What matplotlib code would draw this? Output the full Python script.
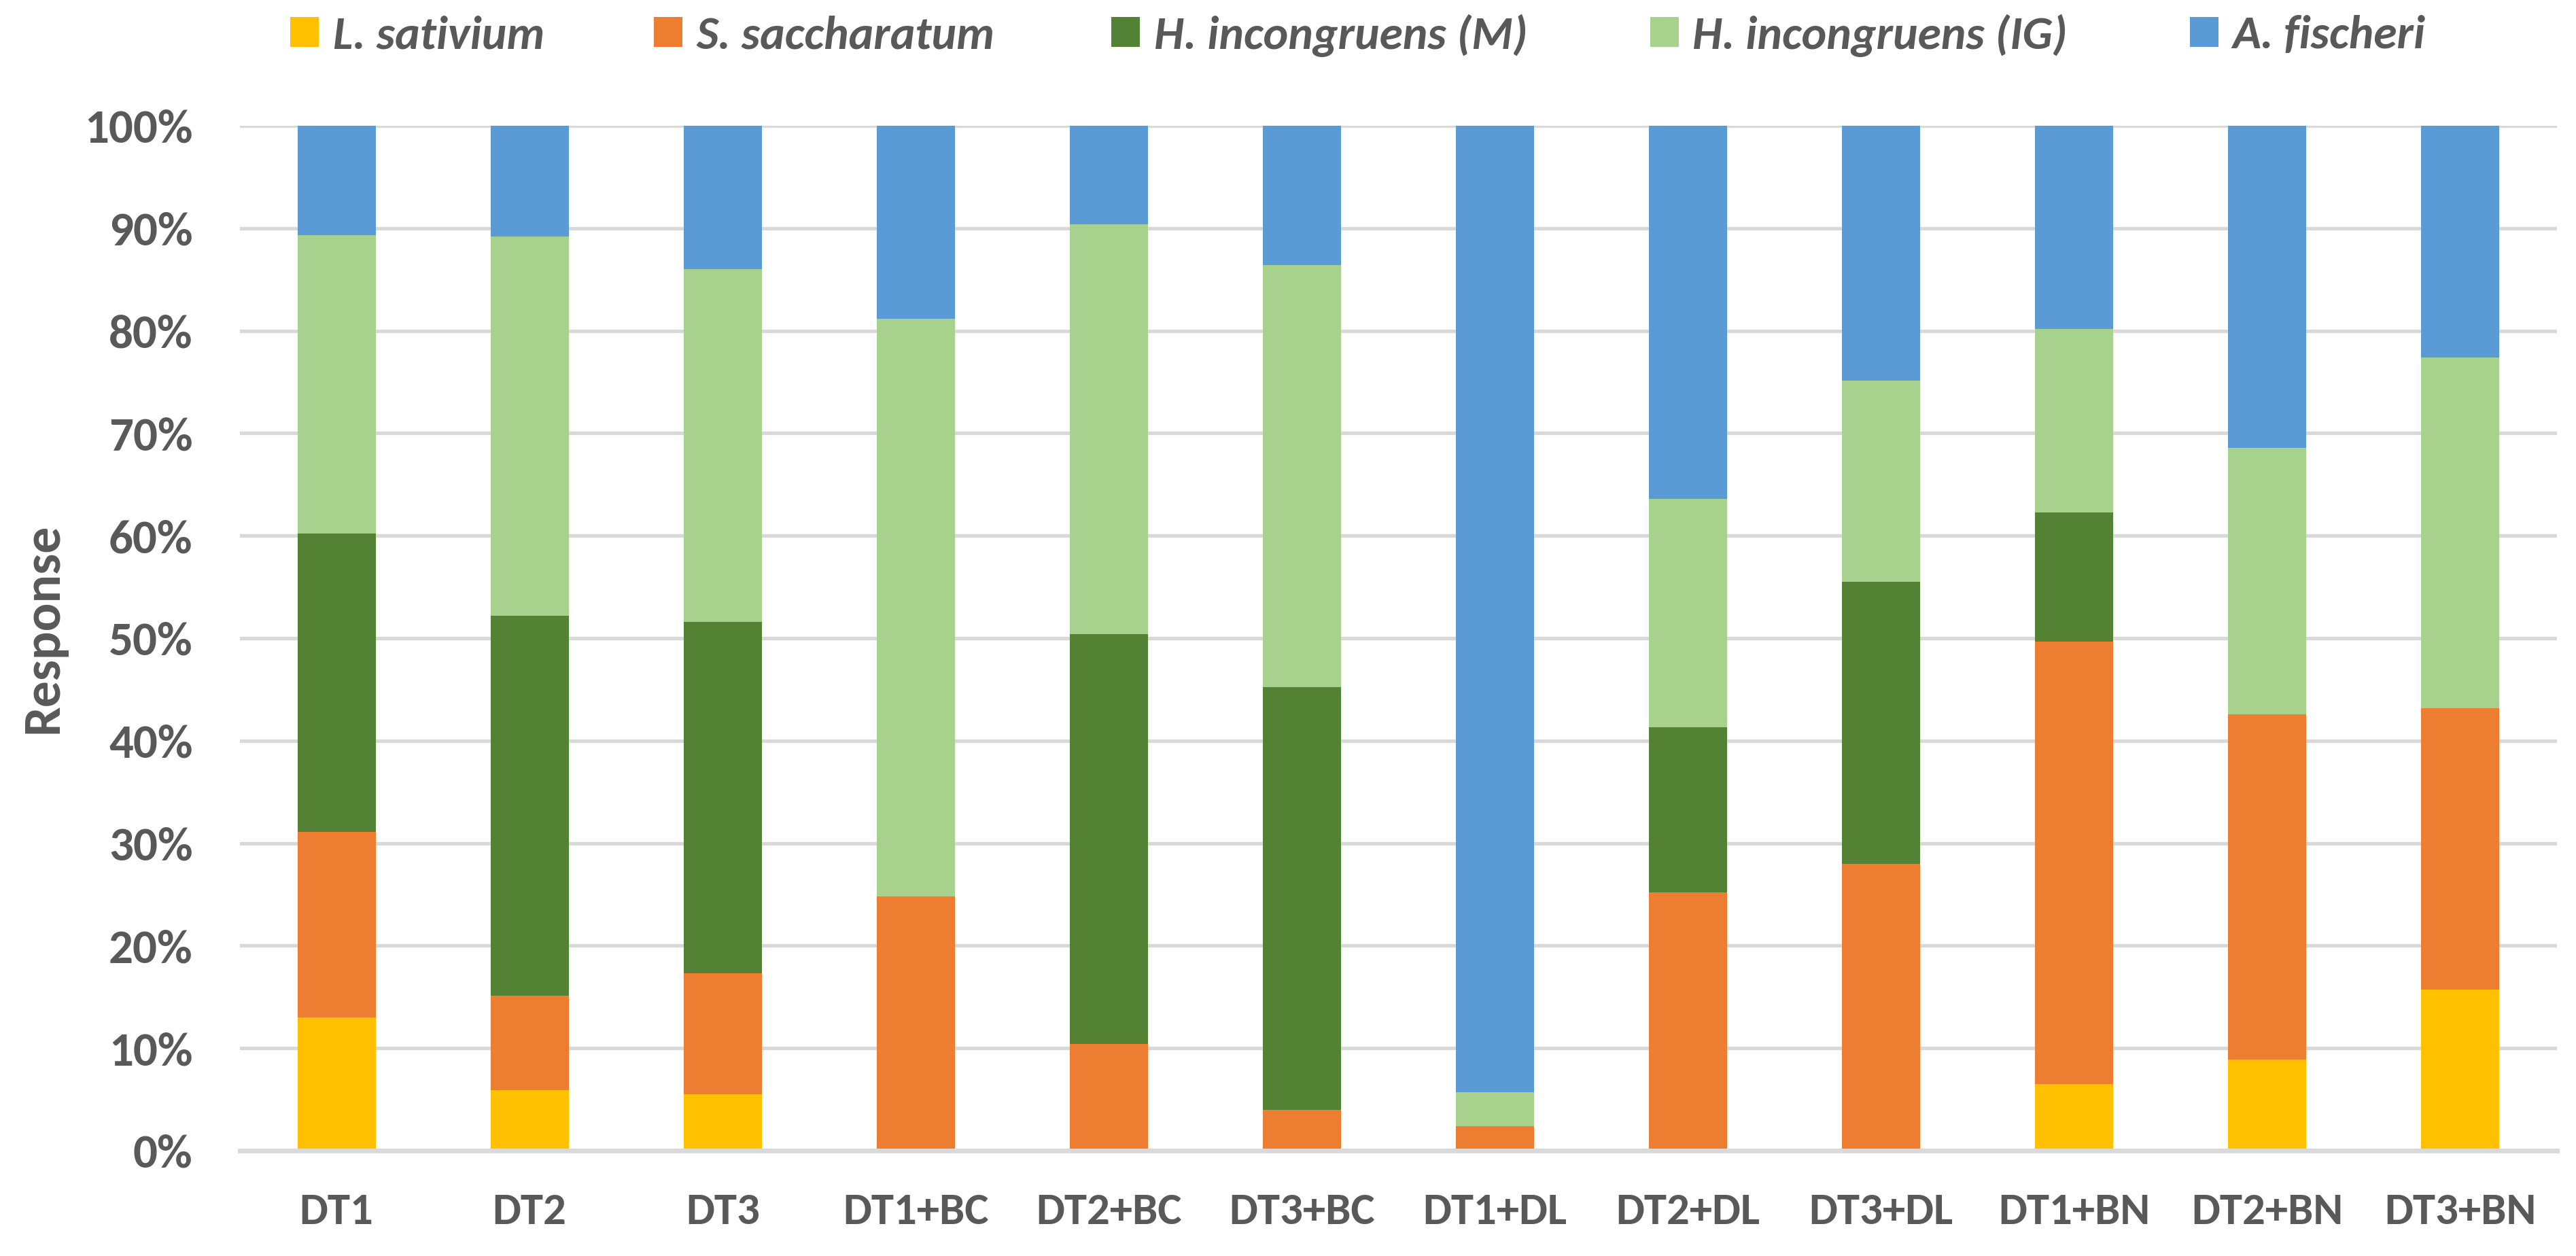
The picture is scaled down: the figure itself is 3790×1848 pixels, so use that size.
import matplotlib
matplotlib.use("Agg")
import matplotlib.pyplot as plt
import numpy as np
from matplotlib.ticker import PercentFormatter

categories = ["DT1", "DT2", "DT3", "DT1+BC", "DT2+BC", "DT3+BC",
              "DT1+DL", "DT2+DL", "DT3+DL", "DT1+BN", "DT2+BN", "DT3+BN"]

series_names = ["L. sativium", "S. saccharatum", "H. incongruens (M)",
                "H. incongruens (IG)", "A. fischeri"]

# segment sizes (%)
l_sativium       = [13.0, 5.9, 5.5, 0.0, 0.0, 0.0, 0.0, 0.0, 0.0, 6.5, 8.9, 15.7]
s_saccharatum    = [18.1, 9.2, 11.8, 24.8, 10.4, 4.0, 2.4, 25.2, 28.0, 43.2, 33.7, 27.5]
h_incongruens_m  = [29.1, 37.1, 34.3, 0.0, 40.0, 41.2, 0.0, 16.1, 27.5, 12.6, 0.0, 0.0]
h_incongruens_ig = [29.1, 37.0, 34.4, 56.4, 40.0, 41.2, 3.3, 22.3, 19.6, 17.9, 26.0, 34.2]
a_fischeri       = [10.7, 10.8, 14.0, 18.8, 9.6, 13.6, 94.3, 36.4, 24.9, 19.8, 31.4, 22.6]

colors = ["#FFC000", "#ED7D31", "#548235", "#A9D18E", "#5B9BD5"]
text_color = "#595959"
grid_color = "#D9D9D9"
fonts = ["Carlito", "Liberation Sans", "DejaVu Sans"]
plt.rcParams["font.family"] = fonts

W, H = 3790, 1848
fig = plt.figure(figsize=(W / 100, H / 100), dpi=100)
ax = fig.add_axes([353 / W, 1 - 1693 / H, (3762 - 353) / W, (1693 - 185) / H])

data = [l_sativium, s_saccharatum, h_incongruens_m, h_incongruens_ig, a_fischeri]
x = np.arange(len(categories))
bottom = np.zeros(len(categories))
handles = []
for vals, name, col in zip(data, series_names, colors):
    v = np.array(vals)
    b = ax.bar(x, v, width=0.405, bottom=bottom, color=col, label=name, zorder=3)
    handles.append(b)
    bottom += v

ax.set_xlim(-0.5, len(categories) - 0.5)
ax.set_ylim(0, 100)
ax.set_yticks(np.arange(0, 101, 10))
ax.yaxis.set_major_formatter(PercentFormatter(decimals=0))
ax.set_xticks(x)
ax.set_xticklabels(categories)
for sp in ["top", "right", "left"]:
    ax.spines[sp].set_visible(False)
ax.spines["bottom"].set_color(grid_color)
ax.spines["bottom"].set_linewidth(5)
ax.spines["bottom"].set_zorder(4)
ax.yaxis.grid(True, color=grid_color, linewidth=3.8, zorder=0)
ax.set_axisbelow(True)
ax.tick_params(axis="y", length=0, labelsize=51, labelcolor=text_color, pad=50)
ax.tick_params(axis="x", length=0, labelsize=48, labelcolor=text_color, pad=44)
for lab in ax.get_xticklabels() + ax.get_yticklabels():
    lab.set_fontweight("bold")

ax.set_ylabel("Response", fontsize=56, fontweight="bold", color=text_color)
ax.yaxis.set_label_coords(63 / W, 0.5, transform=fig.transFigure)
ax.yaxis.label.set_verticalalignment("center")

# legend: one entry per legend box, placed where the reference shows each key
key_left = [427, 962, 1635, 2428, 3222]
for h, name, xl in zip(handles, series_names, key_left):
    leg = fig.legend(handles=[h], labels=[name], loc="center left",
                     bbox_to_anchor=(xl / W, 1 - 52 / H), frameon=False,
                     handlelength=0.6, handleheight=0.6, handletextpad=0.3,
                     borderpad=0, borderaxespad=0,
                     prop={"family": fonts, "style": "italic", "weight": "bold", "size": 50})
    for t in leg.get_texts():
        t.set_color(text_color)

fig.savefig("out.png", dpi=100)
